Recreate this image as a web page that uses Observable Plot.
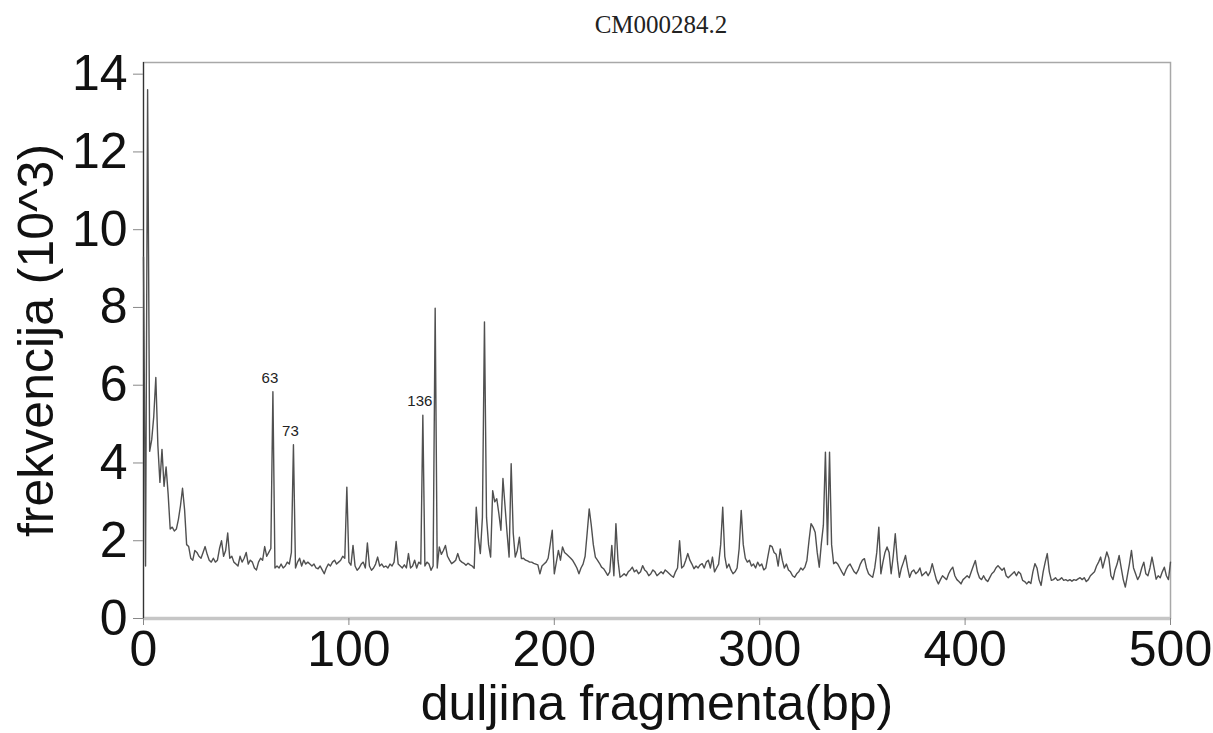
<!DOCTYPE html>
<html>
<head>
<meta charset="utf-8">
<script src="https://cdn.jsdelivr.net/npm/d3@7"></script>
<script src="https://cdn.jsdelivr.net/npm/@observablehq/plot@0.6"></script>
<style>
  html, body { margin: 0; padding: 0; background: #fff; }
  #wrap { position: relative; width: 1213px; height: 733px; overflow: hidden; }
  #title { position: relative; height: 45px; }
  #title span { position: absolute; left: 661px; top: 12px; transform: translateX(-50%);
    font-family: "Liberation Serif", "Times New Roman", serif; font-size: 25px; line-height: 25px; color: #222; white-space: nowrap; }
  svg { display: block; }
</style>
</head>
<body>
<div id="wrap">
  <div id="title"><span>CM000284.2</span></div>
  <div id="chart"></div>
</div>
<script>
// Fragment-length frequency (×10^3), one value per bp from 0 to 500
const freq = [
  9.3, 1.35, 13.6, 4.3, 4.6, 5.2, 6.2, 4.45, 3.5, 4.35,
  3.4, 3.9, 3.2, 2.3, 2.35, 2.25, 2.3, 2.55, 2.9, 3.35,
  2.8, 1.9, 1.85, 1.55, 1.5, 1.75, 1.7, 1.6, 1.55, 1.7,
  1.85, 1.65, 1.5, 1.45, 1.55, 1.45, 1.5, 1.8, 2.0, 1.6,
  1.75, 2.2, 1.55, 1.6, 1.45, 1.4, 1.35, 1.6, 1.45, 1.55,
  1.7, 1.4, 1.5, 1.45, 1.3, 1.25, 1.45, 1.55, 1.5, 1.85,
  1.6, 1.7, 1.8, 5.83, 1.3, 1.35, 1.3, 1.4, 1.3, 1.35,
  1.45, 1.4, 1.7, 4.47, 1.3, 1.45, 1.55, 1.35, 1.5, 1.4,
  1.45, 1.4, 1.35, 1.4, 1.3, 1.28, 1.35, 1.25, 1.15, 1.3,
  1.4, 1.35, 1.45, 1.5, 1.4, 1.45, 1.5, 1.6, 1.55, 3.38,
  1.45, 1.37, 1.88, 1.35, 1.24, 1.3, 1.4, 1.45, 1.3, 1.94,
  1.35, 1.24, 1.3, 1.4, 1.58, 1.35, 1.4, 1.32, 1.35, 1.3,
  1.4, 1.35, 1.45, 1.98, 1.4, 1.35, 1.3, 1.38, 1.3, 1.67,
  1.3, 1.35, 1.5, 1.3, 1.45, 1.4, 5.23, 1.35, 1.45, 1.4,
  1.24, 1.35, 7.98, 1.3, 1.84, 1.65, 1.75, 1.88, 1.6, 1.5,
  1.41, 1.45, 1.5, 1.67, 1.5, 1.45, 1.42, 1.37, 1.42, 1.38,
  1.35, 1.29, 2.86, 2.1, 1.67, 2.6, 7.63, 2.6, 1.9, 1.58,
  3.29, 3.0, 3.08, 2.7, 2.27, 3.6, 2.9, 2.2, 1.58, 3.98,
  2.2, 1.58, 1.75, 2.09, 1.54, 1.55, 1.5, 1.48, 1.45, 1.45,
  1.42, 1.4, 1.38, 1.15, 1.35, 1.4, 1.45, 1.55, 1.9, 2.27,
  1.15, 1.45, 1.75, 1.5, 1.84, 1.7, 1.65, 1.6, 1.55, 1.49,
  1.4, 1.3, 1.15, 1.3, 1.4, 1.6, 2.2, 2.82, 2.4, 1.9,
  1.58, 1.5, 1.42, 1.32, 1.28, 1.2, 1.11, 1.2, 1.88, 1.1,
  2.44, 1.5, 1.06, 1.1, 1.15, 1.1, 1.2, 1.25, 1.32, 1.2,
  1.25, 1.15, 1.2, 1.36, 1.25, 1.2, 1.1, 1.15, 1.25, 1.2,
  1.1, 1.15, 1.2, 1.15, 1.25, 1.2, 1.15, 1.1, 1.06, 1.2,
  1.3, 2.0, 1.3, 1.35, 1.5, 1.67, 1.5, 1.4, 1.28, 1.35,
  1.3, 1.38, 1.41, 1.3, 1.45, 1.5, 1.3, 1.58, 1.2, 1.3,
  1.4, 1.9, 2.86, 1.6, 1.3, 1.4, 1.25, 1.15, 1.2, 1.3,
  1.8, 2.78, 1.9, 1.55, 1.45, 1.5, 1.35, 1.4, 1.3, 1.45,
  1.35, 1.4, 1.25, 1.3, 1.6, 1.88, 1.85, 1.7, 1.65, 1.35,
  1.79, 1.5, 1.3, 1.4, 1.25, 1.2, 1.1, 1.06, 1.15, 1.2,
  1.3, 1.25, 1.32, 1.5, 2.0, 2.44, 2.35, 2.22, 1.7, 1.32,
  1.92, 2.4, 4.28, 1.9, 4.28, 1.9, 1.41, 1.45, 1.4, 1.3,
  1.2, 1.11, 1.25, 1.35, 1.4, 1.3, 1.2, 1.15, 1.25, 1.4,
  1.5, 1.54, 1.3, 1.15, 1.1, 1.06, 1.3, 1.7, 2.35, 1.15,
  1.45, 1.7, 1.84, 1.7, 1.15, 1.6, 2.18, 1.5, 1.06, 1.3,
  1.45, 1.62, 1.3, 1.06, 1.2, 1.25, 1.15, 1.2, 1.3, 1.1,
  1.15, 1.2, 1.1, 1.2, 1.41, 1.2, 1.0, 0.89, 1.0, 1.1,
  1.05, 1.0, 1.15, 1.25, 1.32, 1.1, 1.0, 0.95, 0.89, 1.0,
  1.05, 1.1, 1.05, 1.2, 1.35, 1.49, 1.2, 1.05, 1.0, 1.1,
  1.0, 0.95, 1.05, 1.15, 1.2, 1.3, 1.36, 1.3, 1.24, 1.3,
  1.1, 1.05, 1.1, 1.15, 1.2, 1.1, 1.2, 1.15, 0.98, 0.95,
  0.89, 0.95, 0.9, 1.2, 1.41, 1.3, 1.0, 0.85, 1.2, 1.45,
  1.67, 1.2, 0.98, 1.0, 1.05, 0.98, 1.0, 1.05, 0.98, 1.0,
  0.97, 1.0, 0.96, 1.0, 0.98, 1.02, 1.05, 1.0, 1.05, 0.95,
  1.0, 1.1, 1.15, 1.2, 1.35, 1.45, 1.58, 1.3, 1.5, 1.71,
  1.55, 1.1, 1.0, 1.25, 1.4, 1.62, 1.3, 1.0, 0.81, 1.1,
  1.4, 1.75, 1.3, 1.15, 1.0, 1.1, 1.3, 1.45, 1.15, 1.1,
  1.3, 1.58, 1.3, 1.01, 1.1, 1.05, 1.2, 1.32, 1.1, 1.0,
  1.45
];

// Annotated peaks (fragment length in bp)
const peakLabels = [63, 73, 136];

const xTicks = [0, 100, 200, 300, 400, 500];
const yTicks = [0, 2, 4, 6, 8, 10, 12, 14];
const xTitle = "duljina fragmenta(bp)";
const yTitle = "frekvencija (10^3)";

const series = freq.map((v, i) => ({bp: i, f: v}));
const peaks = peakLabels.map(bp => ({bp, f: freq[bp], label: String(bp)}));

const chart = Plot.plot({
  width: 1213,
  height: 688,
  marginTop: 17,
  marginRight: 43,
  marginBottom: 115,
  marginLeft: 143,
  style: {fontFamily: "'Liberation Sans', Arial, sans-serif", background: "#fff", color: "#111", overflow: "visible"},
  x: {domain: [0, 500]},
  y: {domain: [0, 14.3]},
  marks: [
    Plot.frame({stroke: "#a8a8a8", strokeWidth: 1.5}),
    Plot.ruleY([0], {stroke: "#c6c6c6", strokeWidth: 3.5}),
    Plot.ruleX([0], {stroke: "#333", strokeWidth: 1.2}),
    Plot.lineY(series, {x: "bp", y: "f", stroke: "#505050", strokeWidth: 1.4}),
    Plot.text(peaks, {x: "bp", y: "f", text: "label", dy: -9, dx: -3, lineAnchor: "bottom",
      fontSize: 15, fill: "#222", fontFamily: "'Liberation Sans', Arial, sans-serif"}),
    Plot.axisX(xTicks, {tickSize: 7, tickPadding: 5, fontSize: 50, stroke: "#888",
      label: xTitle, labelAnchor: "center", labelArrow: "none", labelOffset: 101}),
    Plot.axisY(yTicks, {tickSize: 10, tickPadding: 6, fontSize: 50, stroke: "#888",
      label: yTitle, labelAnchor: "center", labelArrow: "none", labelOffset: 126})
  ]
});
document.getElementById("chart").appendChild(chart);
</script>
</body>
</html>
